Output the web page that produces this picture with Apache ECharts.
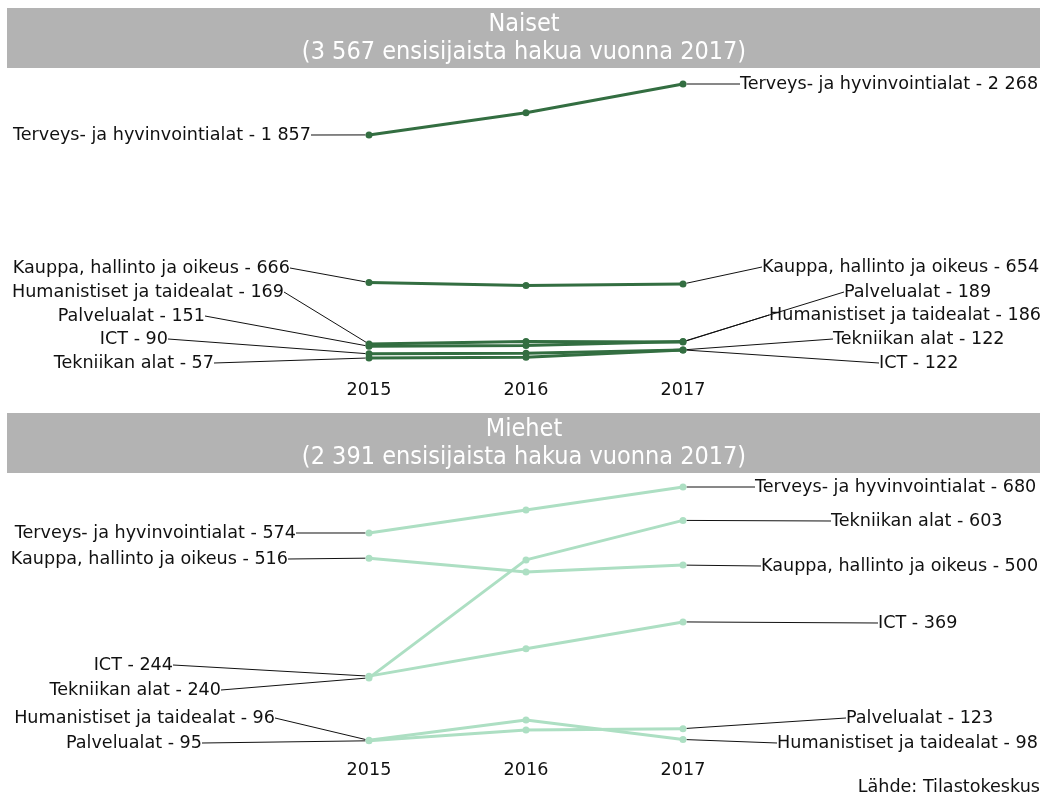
<!DOCTYPE html>
<html>
<head>
<meta charset="utf-8">
<script src="https://cdn.jsdelivr.net/npm/echarts@6/dist/echarts.min.js"></script>
<style>
html, body { margin: 0; padding: 0; background: #fff; }
#chart { width: 1047px; height: 803px; }
</style>
</head>
<body>
<div id="chart"></div>
<script>
// data
const years = ['2015', '2016', '2017'];
const fields = [
  'Terveys- ja hyvinvointialat',
  'Kauppa, hallinto ja oikeus',
  'Humanistiset ja taidealat',
  'Palvelualat',
  'ICT',
  'Tekniikan alat'
];
const women = [
  [1857, 2036, 2268],
  [666, 642, 654],
  [169, 190, 186],
  [151, 157, 189],
  [90, 95, 122],
  [57, 63, 122]
];
const men = [
  [574, 627, 680],
  [516, 484, 500],
  [96, 143, 98],
  [95, 120, 123],
  [244, 307, 369],
  [240, 512, 603]
];

// where the end labels sit: [left end x, left y, right start x, right y]
const womenLabelPos = [
  [311, 135, 740, 84],
  [290, 268, 762, 267],
  [284, 292, 769, 315],
  [205, 316, 844, 292],
  [168, 339, 879, 363],
  [214, 363, 833, 339]
];
const menLabelPos = [
  [296, 533, 755, 487],
  [288, 559, 761, 566],
  [275, 718, 777, 743],
  [202, 743, 846, 718],
  [173, 665, 878, 623],
  [221, 690, 831, 521]
];

const FONT = '"DejaVu Sans"';
const HEAD_FONT = '25px "DejaVu Sans Condensed", "Liberation Sans Narrow", "Open Sans"';

function fmt(v) {
  return String(v).replace(/\B(?=(\d{3})+(?!\d))/g, ' ');
}

function buildSeries(values, axisIdx, color, pos) {
  return values.map((vals, i) => ({
    type: 'line',
    name: fields[i],
    xAxisIndex: axisIdx,
    yAxisIndex: axisIdx,
    clip: false,
    symbol: 'circle',
    symbolSize: 7,
    lineStyle: { color: color, width: 3 },
    itemStyle: { color: color },
    label: {
      show: false,
      color: '#111',
      fontFamily: FONT,
      fontSize: 17.6,
      formatter: p => fields[i] + ' - ' + fmt(p.value)
    },
    labelLine: {
      show: true,
      length2: 0,
      lineStyle: { color: '#111', width: 1 }
    },
    labelLayout: function (params) {
      const p = pos[i];
      if (params.dataIndex === 0) {
        return { x: p[0], y: p[1], align: 'right', verticalAlign: 'middle' };
      }
      return { x: p[2], y: p[3], align: 'left', verticalAlign: 'middle' };
    },
    emphasis: { disabled: true },
    data: vals.map((v, j) => j === 1 ? v : { value: v, label: { show: true } })
  }));
}

const womenMax = Math.max(...women.flat());
const menMax = Math.max(...men.flat());

const axisLabelStyle = { color: '#111', fontFamily: FONT, fontSize: 17.6 };

let option = {
  animation: false,
  backgroundColor: '#fff',
  grid: [
    { left: 369, width: 314, top: 84, height: 281 },
    { left: 369, width: 314, top: 487, height: 295 }
  ],
  xAxis: [
    {
      type: 'category', gridIndex: 0, data: years, boundaryGap: false,
      axisLine: { show: false }, axisTick: { show: false }, splitLine: { show: false },
      axisLabel: Object.assign({ margin: 16 }, axisLabelStyle)
    },
    {
      type: 'category', gridIndex: 1, data: years, boundaryGap: false, offset: -37,
      axisLine: { show: false }, axisTick: { show: false }, splitLine: { show: false },
      axisLabel: Object.assign({ margin: 16 }, axisLabelStyle)
    }
  ],
  yAxis: [
    { type: 'value', gridIndex: 0, min: 0, max: womenMax, show: false },
    { type: 'value', gridIndex: 1, min: 0, max: menMax, show: false }
  ],
  graphic: [
    { type: 'rect', shape: { x: 7, y: 8, width: 1033, height: 60 }, style: { fill: '#b3b3b3' }, z: -1 },
    { type: 'text', x: 524, y: 24, style: { text: 'Naiset', fill: '#fff', font: HEAD_FONT, textAlign: 'center', textVerticalAlign: 'middle' } },
    { type: 'text', x: 524, y: 52, style: { text: '(3 567 ensisijaista hakua vuonna 2017)', fill: '#fff', font: HEAD_FONT, textAlign: 'center', textVerticalAlign: 'middle' } },
    { type: 'rect', shape: { x: 7, y: 413, width: 1033, height: 60 }, style: { fill: '#b3b3b3' }, z: -1 },
    { type: 'text', x: 524, y: 429, style: { text: 'Miehet', fill: '#fff', font: HEAD_FONT, textAlign: 'center', textVerticalAlign: 'middle' } },
    { type: 'text', x: 524, y: 457, style: { text: '(2 391 ensisijaista hakua vuonna 2017)', fill: '#fff', font: HEAD_FONT, textAlign: 'center', textVerticalAlign: 'middle' } },
    { type: 'text', x: 1040, y: 787, style: { text: 'Lähde: Tilastokeskus', fill: '#111', font: '17.6px ' + FONT, textAlign: 'right', textVerticalAlign: 'middle' } }
  ],
  series: [
    ...buildSeries(women, 0, '#336e41', womenLabelPos),
    ...buildSeries(men, 1, '#addfc3', menLabelPos)
  ]
};

const myChart = echarts.init(document.getElementById('chart'));
myChart.setOption(option);
</script>
</body>
</html>
